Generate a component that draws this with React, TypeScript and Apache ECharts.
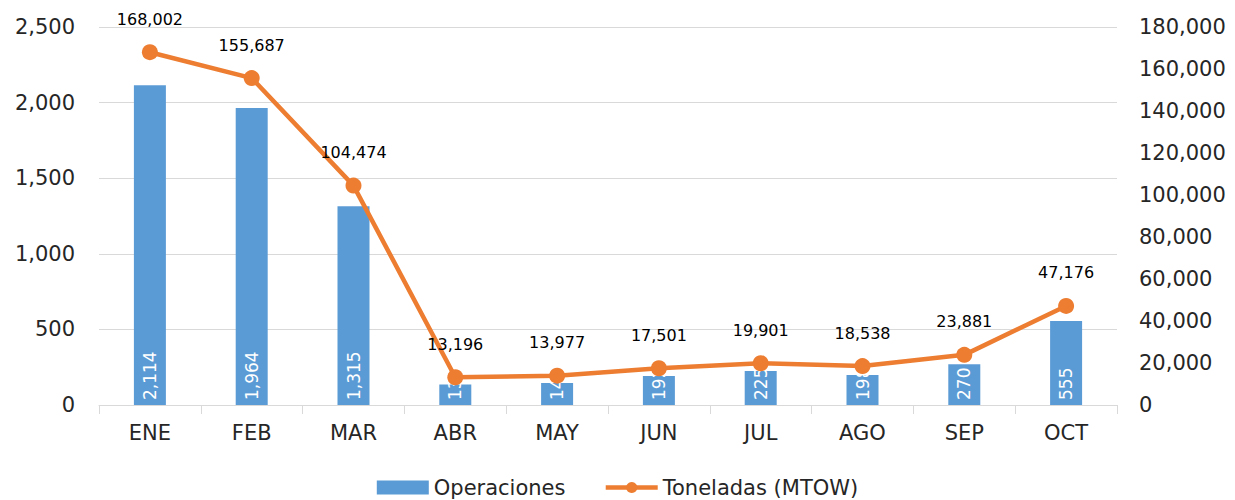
import React, { useEffect, useRef } from "react";
import * as echarts from "echarts";

const categories = ["ENE", "FEB", "MAR", "ABR", "MAY", "JUN", "JUL", "AGO", "SEP", "OCT"];
const operaciones = [2114, 1964, 1315, 136, 145, 192, 225, 198, 270, 555];
const toneladas = [168002, 155687, 104474, 13196, 13977, 17501, 19901, 18538, 23881, 47176];

const FONT = "DejaVu Sans";

export default function App() {
  const ref = useRef<HTMLDivElement>(null);
  useEffect(() => {
    if (!ref.current) return;
    const chart = echarts.init(ref.current, null, { renderer: "svg" });
    const fmt = (v: number) => v.toLocaleString("en-US");
    chart.setOption({
      animation: false,
      backgroundColor: "#ffffff",
      textStyle: { fontFamily: FONT },
      grid: { left: 99, right: 118, top: 27, bottom: 95, containLabel: false },
      legend: {
        top: 472,
        left: "center",
        itemGap: 38,
        itemWidth: 52,
        itemHeight: 14,
        textStyle: { fontSize: 21, color: "#262626", fontFamily: FONT },
        data: [
          { name: "Operaciones", icon: "rect" },
          { name: "Toneladas (MTOW)", lineStyle: { width: 4.5 } },
        ],
      },
      xAxis: {
        type: "category",
        data: categories,
        axisLine: { lineStyle: { color: "#d9d9d9", width: 1 } },
        axisTick: { show: true, length: 9, lineStyle: { color: "#d9d9d9" } },
        axisLabel: { fontSize: 21, color: "#262626", margin: 17, fontFamily: FONT },
      },
      yAxis: [
        {
          type: "value",
          min: 0,
          max: 2500,
          interval: 500,
          axisLine: { show: false },
          axisTick: { show: false },
          splitLine: { lineStyle: { color: "#d9d9d9", width: 1 } },
          axisLabel: { fontSize: 21, color: "#262626", margin: 24, formatter: (v: number) => fmt(v), fontFamily: FONT },
        },
        {
          type: "value",
          min: 0,
          max: 180000,
          interval: 20000,
          axisLine: { show: false },
          axisTick: { show: false },
          splitLine: { show: false },
          axisLabel: { fontSize: 21, color: "#262626", margin: 22, formatter: (v: number) => fmt(v), fontFamily: FONT },
        },
      ],
      series: [
        {
          name: "Operaciones",
          type: "bar",
          yAxisIndex: 0,
          data: operaciones,
          barWidth: 32,
          itemStyle: { color: "#5B9BD5" },
          label: {
            show: true,
            position: "insideBottom",
            rotate: 90,
            align: "left",
            verticalAlign: "middle",
            distance: 5,
            color: "#ffffff",
            fontSize: 17,
            fontFamily: FONT,
            formatter: (p: any) => fmt(p.value),
          },
          z: 2,
        },
        {
          name: "Toneladas (MTOW)",
          type: "line",
          yAxisIndex: 1,
          data: toneladas,
          symbol: "circle",
          symbolSize: 16,
          lineStyle: { color: "#ED7D31", width: 4.5 },
          itemStyle: { color: "#ED7D31" },
          label: {
            show: true,
            position: "top",
            distance: 17,
            color: "#000000",
            fontSize: 16,
            fontFamily: FONT,
            formatter: (p: any) => fmt(p.value),
          },
          z: 3,
        },
      ],
    });
    return () => chart.dispose();
  }, []);
  return <div ref={ref} style={{ width: 1235, height: 500, position: "absolute", left: 0, top: 0 }} />;
}
